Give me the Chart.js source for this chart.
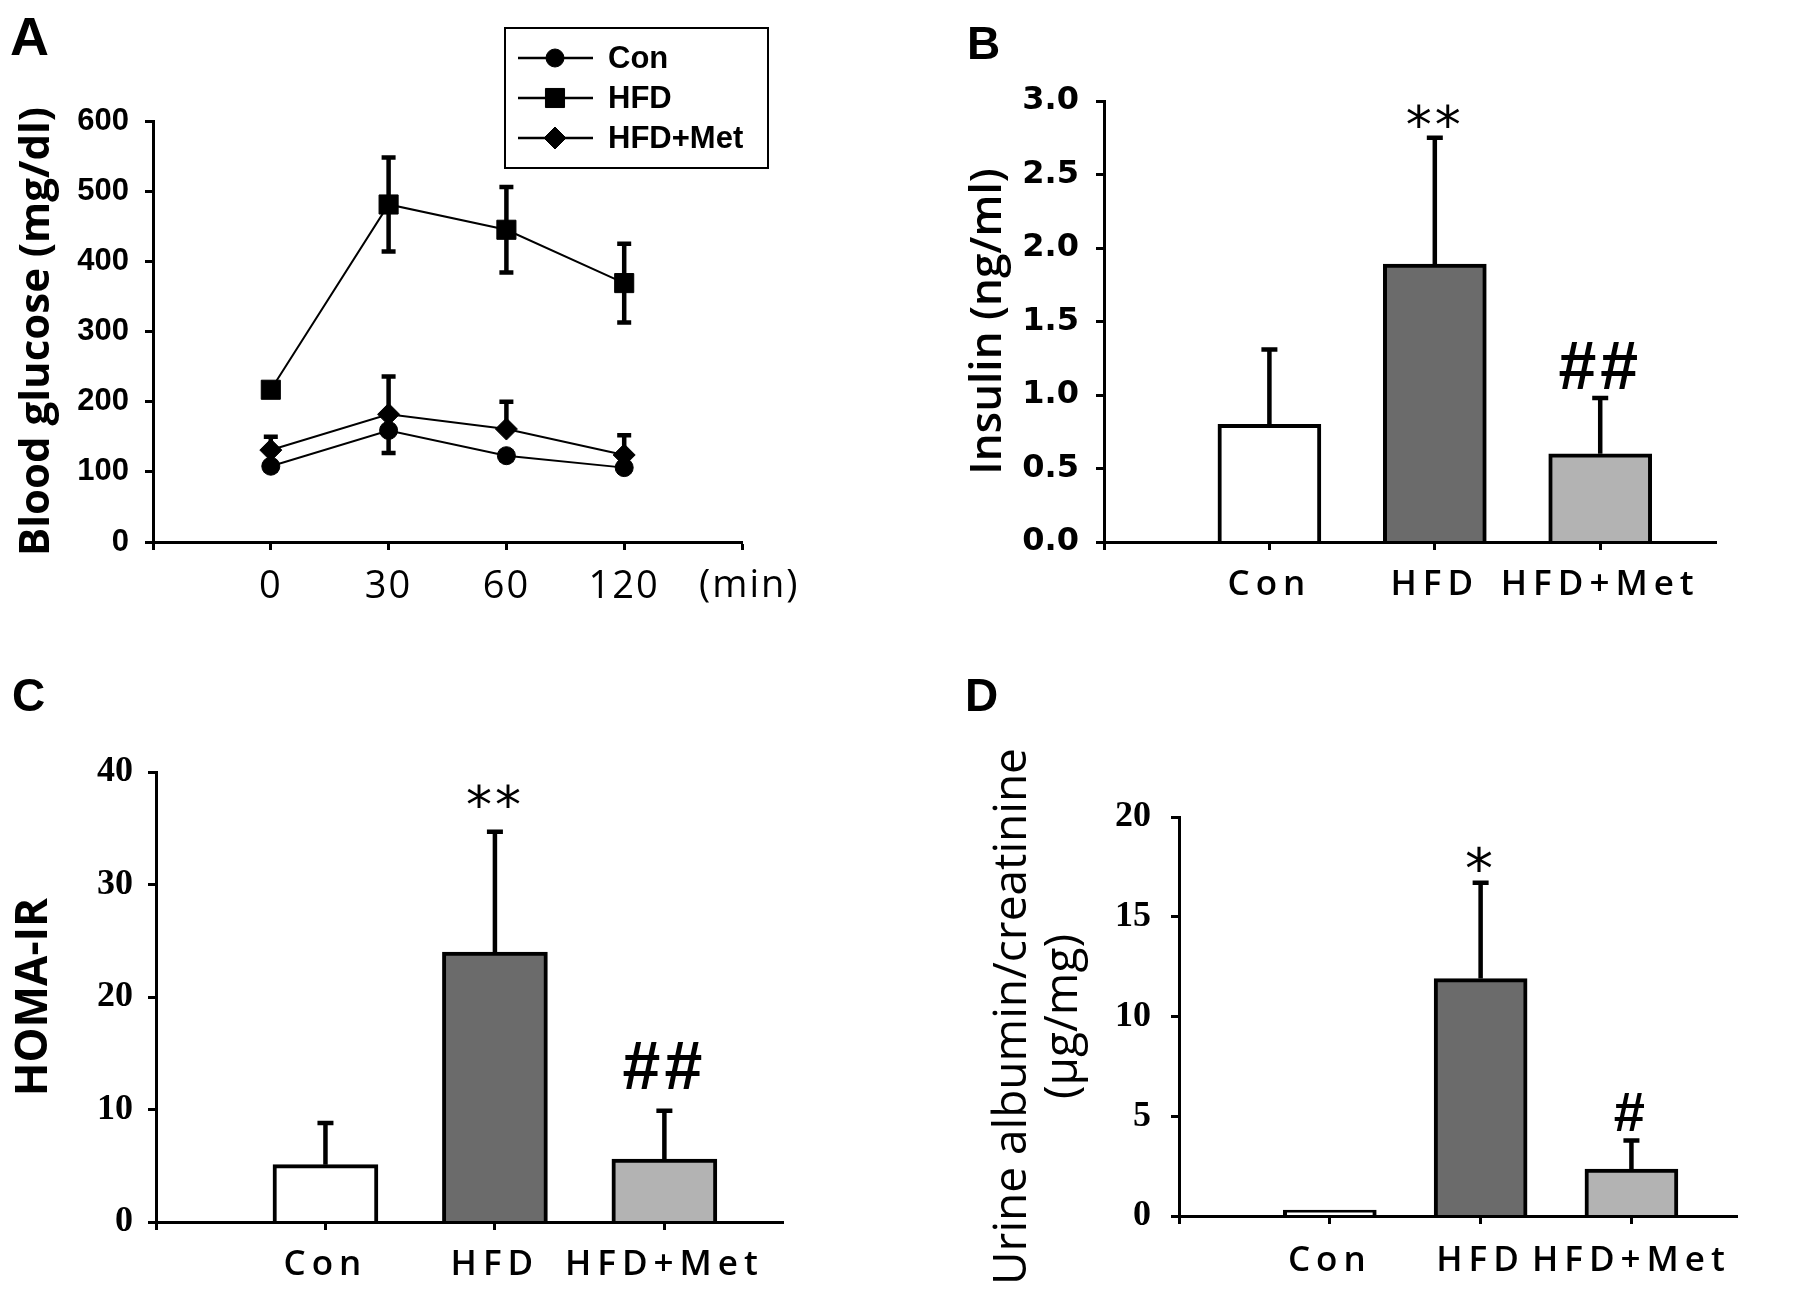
<!DOCTYPE html>
<html>
<head>
<meta charset="utf-8">
<script src="https://cdn.jsdelivr.net/npm/chart.js@4.4.1/dist/chart.umd.min.js"></script>
<style>
  body { margin: 0; background: #fff; }
  #wrap { position: relative; width: 1795px; height: 1292px; }
  canvas { position: absolute; }
</style>
</head>
<body>
<div id="wrap">
  <canvas id="panelA" width="900" height="646" style="left:0;top:0"></canvas>
  <canvas id="panelB" width="895" height="646" style="left:900px;top:0"></canvas>
  <canvas id="panelC" width="900" height="646" style="left:0;top:646px"></canvas>
  <canvas id="panelD" width="895" height="646" style="left:900px;top:646px"></canvas>
</div>
<script>
// values
const groups = ['Con', 'HFD', 'HFD+Met'];
const timeLabels = ['0', '30', '60', '120'];

const glucoseCon = [108, 159, 123, 106];
const glucoseConErr = [6, 32, 6, 5];
const glucoseHfd = [217, 481, 445, 369];
const glucoseHfdErr = [5, 67, 61, 56];
const glucoseMet = [131, 182, 161, 124];
const glucoseMetErr = [19, 54, 39, 28];

const insulin = [0.80, 1.89, 0.60];
const insulinErr = [0.51, 0.86, 0.38];
const insulinMarks = ['', '**', '##'];

const homa = [5.1, 24.0, 5.6];
const homaErr = [3.7, 10.7, 4.3];
const homaMarks = ['', '**', '##'];

const albumin = [0.3, 11.9, 2.35];
const albuminErr = [0, 4.8, 1.43];
const albuminMarks = ['', '*', '#'];

const barFills = ['#ffffff', '#6b6b6b', '#b3b3b3'];

const toPoints = vals => vals.map((v, i) => ({x: i + 1, y: v}));

// wrap a scale's label drawing so the tick text gets letter spacing
function spaced(px) {
  return function(scale) {
    if (scale._spaced) return;
    const orig = scale.drawLabels;
    scale.drawLabels = function(area) {
      this.ctx.save();
      this.ctx.letterSpacing = px + 'px';
      orig.call(this, area);
      this.ctx.restore();
    };
    scale._spaced = true;
  };
}

const errorBars = {
  id: 'errorBars',
  afterDatasetsDraw(chart, args, opts) {
    const ctx = chart.ctx;
    const y = chart.scales.y;
    chart.data.datasets.forEach((ds, di) => {
      if (!ds.errors) return;
      const meta = chart.getDatasetMeta(di);
      ctx.save();
      ctx.strokeStyle = '#000';
      ctx.lineWidth = opts.width;
      meta.data.forEach((el, i) => {
        const v = ds.data[i].y;
        const e = ds.errors[i];
        if (!e) return;
        const hi = ds.errorDir !== 'down' ? v + e : v;
        const lo = ds.errorDir !== 'up' ? v - e : v;
        const yHi = y.getPixelForValue(hi);
        const yLo = y.getPixelForValue(lo);
        ctx.beginPath();
        ctx.moveTo(el.x, yLo);
        ctx.lineTo(el.x, yHi);
        if (hi !== v) { ctx.moveTo(el.x - opts.cap / 2, yHi); ctx.lineTo(el.x + opts.cap / 2, yHi); }
        if (lo !== v) { ctx.moveTo(el.x - opts.cap / 2, yLo); ctx.lineTo(el.x + opts.cap / 2, yLo); }
        ctx.stroke();
      });
      ctx.restore();
    });
  }
};

const sigMarks = {
  id: 'sigMarks',
  afterDatasetsDraw(chart, args, opts) {
    const ds = chart.data.datasets[0];
    if (!ds.marks) return;
    const ctx = chart.ctx;
    const y = chart.scales.y;
    const meta = chart.getDatasetMeta(0);
    ds.marks.forEach((m, i) => {
      if (!m) return;
      const top = y.getPixelForValue(ds.data[i].y + ds.errors[i]);
      const star = m.includes('*');
      const fs = star ? opts.starSize : opts.hashSize;
      ctx.save();
      ctx.fillStyle = '#000';
      ctx.font = star ? fs + 'px "DejaVu Sans"' : 'bold ' + fs + 'px "Liberation Sans"';
      ctx.textAlign = 'center';
      ctx.textBaseline = 'alphabetic';
      ctx.letterSpacing = star ? '3px' : '4px';
      const base = star ? top - opts.gap - 7 + 0.4 * fs : top - opts.gap;
      ctx.fillText(m, meta.data[i].x, base);
      ctx.restore();
    });
  }
};

function panelText(items) {
  return {
    id: 'panelText',
    afterDraw(chart) {
      const ctx = chart.ctx;
      items.forEach(t => {
        ctx.save();
        ctx.font = t.font;
        ctx.fillStyle = '#000';
        ctx.textAlign = t.align || 'left';
        ctx.textBaseline = t.baseline || 'alphabetic';
        ctx.letterSpacing = t.spacing || '0px';
        ctx.fillText(t.text, t.x, t.y);
        ctx.restore();
      });
    }
  };
}

function boxLegend(box) {
  return {
    id: 'boxLegend',
    afterDraw(chart) {
      const ctx = chart.ctx;
      ctx.save();
      ctx.strokeStyle = '#000';
      ctx.fillStyle = '#000';
      ctx.lineWidth = 2;
      ctx.strokeRect(box.left, box.top, box.width, box.height);
      chart.data.datasets.forEach((ds, i) => {
        const yy = box.top + box.firstRow + i * box.rowGap;
        ctx.lineWidth = 2.5;
        ctx.beginPath();
        ctx.moveTo(box.left + 13, yy);
        ctx.lineTo(box.left + 88, yy);
        ctx.stroke();
        ctx.lineWidth = 1;
        Chart.helpers.drawPoint(ctx, {pointStyle: ds.pointStyle, radius: ds.pointRadius, rotation: 0, borderWidth: 1}, box.left + 50, yy);
        ctx.font = 'bold 31px "Liberation Sans"';
        ctx.textBaseline = 'middle';
        ctx.textAlign = 'left';
        ctx.fillText(ds.label, box.left + 103, yy + 1);
      });
      ctx.restore();
    }
  };
}

const axisGrid = {drawOnChartArea: false, tickLength: 8, tickWidth: 3, tickColor: '#000'};
const axisBorder = {color: '#000', width: 3, z: 1};

function lineSet(label, vals, errs, dir, style, radius) {
  return {
    label: label, data: toPoints(vals), errors: errs, errorDir: dir,
    borderColor: '#000', borderWidth: 2, tension: 0, fill: false,
    pointStyle: style, pointRadius: radius,
    pointBackgroundColor: '#000', pointBorderColor: '#000', pointBorderWidth: 1
  };
}

// A: glucose tolerance
new Chart(document.getElementById('panelA'), {
  type: 'line',
  data: {
    datasets: [
      lineSet('Con', glucoseCon, glucoseConErr, 'down', 'circle', 9),
      lineSet('HFD', glucoseHfd, glucoseHfdErr, 'both', 'rect', 13.5),
      lineSet('HFD+Met', glucoseMet, glucoseMetErr, 'up', 'rectRot', 11)
    ]
  },
  options: {
    responsive: false, animation: false, devicePixelRatio: 1,
    layout: {padding: {left: 0, top: 121, right: 158, bottom: 0}},
    plugins: {legend: {display: false}, tooltip: {enabled: false}, errorBars: {width: 4.5, cap: 14}},
    scales: {
      x: {
        type: 'linear', min: 0, max: 5, offset: false,
        afterBuildTicks: s => { s.ticks = [0, 1, 2, 3, 4, 5].map(v => ({value: v})); },
        afterFit: s => { s.height = 104; },
        afterUpdate: spaced(2),
        ticks: {callback: v => timeLabels[v - 1] ?? '', font: {family: 'Open Sans', size: 38}, color: '#000', padding: 14, maxRotation: 0, autoSkip: false},
        grid: axisGrid, border: axisBorder
      },
      y: {
        min: 0, max: 600,
        afterFit: s => { s.width = 153; },
        ticks: {stepSize: 100, font: {family: 'Liberation Sans', weight: 'bold', size: 31}, color: '#000', padding: 16},
        grid: axisGrid, border: axisBorder,
        title: {display: true, text: 'Blood glucose (mg/dl)', color: '#000', font: {family: 'Open Sans', weight: 'bold', size: 42}, padding: {top: 12}}
      }
    }
  },
  plugins: [errorBars, boxLegend({left: 505, top: 28, width: 263, height: 140, firstRow: 30, rowGap: 40}),
    panelText([
      {text: 'A', x: 10, y: 55, font: 'bold 54px "Liberation Sans"'},
      {text: '(min)', x: 699, y: 586, font: '38px "Open Sans"', baseline: 'middle', spacing: '2px'}
    ])]
});

function barChart(id, vals, errs, marks, o) {
  return new Chart(document.getElementById(id), {
    type: 'bar',
    data: {
      datasets: [{
        data: toPoints(vals), errors: errs, errorDir: 'up', marks: marks,
        backgroundColor: barFills, borderColor: '#000', borderWidth: 4,
        barThickness: o.barWidth
      }]
    },
    options: {
      responsive: false, animation: false, devicePixelRatio: 1,
      layout: {padding: {left: 0, top: o.top, right: o.right, bottom: 0}},
      plugins: {
        legend: {display: false}, tooltip: {enabled: false},
        errorBars: {width: 4.5, cap: 16},
        sigMarks: {gap: o.gap, starSize: o.starSize, hashSize: o.hashSize}
      },
      scales: {
        x: {
          type: 'linear', min: 0, max: 3.7, offset: false,
          afterBuildTicks: s => { s.ticks = [0, 1, 2, 3].map(v => ({value: v})); },
          afterFit: s => { s.height = o.xHeight; },
          afterUpdate: spaced(6),
          ticks: {callback: v => groups[v - 1] ?? '', font: {family: 'Open Sans', weight: 600, size: 35}, color: '#000', padding: o.xPad, maxRotation: 0, autoSkip: false},
          grid: Object.assign({offset: false}, axisGrid), border: axisBorder
        },
        y: {
          min: 0, max: o.max,
          afterFit: s => { s.width = o.yWidth; },
          ticks: {stepSize: o.step, callback: o.fmt, font: o.tickFont, color: '#000', padding: o.yPad},
          grid: axisGrid, border: axisBorder,
          title: {display: true, text: o.title, color: '#000', font: o.titleFont, padding: {top: o.titlePad}}
        }
      }
    },
    plugins: [errorBars, sigMarks, panelText([{text: o.letter, x: o.letterX, y: o.letterY, font: 'bold 46px "Liberation Sans"'}])]
  });
}

// B: insulin
barChart('panelB', insulin, insulinErr, insulinMarks, {
  top: 101, right: 79, xHeight: 104, yWidth: 204, barWidth: 103,
  max: 3, step: 0.5, fmt: v => v.toFixed(1),
  tickFont: {family: 'DejaVu Sans', weight: 'bold', size: 32}, yPad: 17, xPad: 14,
  title: 'Insulin (ng/ml)', titleFont: {family: 'Open Sans', weight: 600, size: 44}, titlePad: 62,
  gap: 9, starSize: 52, hashSize: 68,
  letter: 'B', letterX: 67, letterY: 59
});

// C: HOMA-IR
barChart('panelC', homa, homaErr, homaMarks, {
  top: 126, right: 117, xHeight: 70, yWidth: 156, barWidth: 105,
  max: 40, step: 10, fmt: v => v,
  tickFont: {family: 'Liberation Serif', weight: 'bold', size: 36}, yPad: 15, xPad: 14,
  title: 'HOMA-IR', titleFont: {family: 'Open Sans', weight: 'bold', size: 44}, titlePad: 8,
  gap: 22, starSize: 52, hashSize: 68,
  letter: 'C', letterX: 12, letterY: 65
});

// D: urine albumin / creatinine
barChart('panelD', albumin, albuminErr, albuminMarks, {
  top: 171, right: 58, xHeight: 76, yWidth: 279, barWidth: 93,
  max: 20, step: 5, fmt: v => v,
  tickFont: {family: 'Liberation Serif', weight: 'bold', size: 36}, yPad: 20, xPad: 16,
  title: ['Urine albumin/creatinine', '(μg/mg)'], titleFont: {family: 'Open Sans', weight: 500, size: 46, lineHeight: 1.1}, titlePad: 88,
  gap: 10, starSize: 56, hashSize: 56,
  letter: 'D', letterX: 65, letterY: 65
});
</script>
</body>
</html>
